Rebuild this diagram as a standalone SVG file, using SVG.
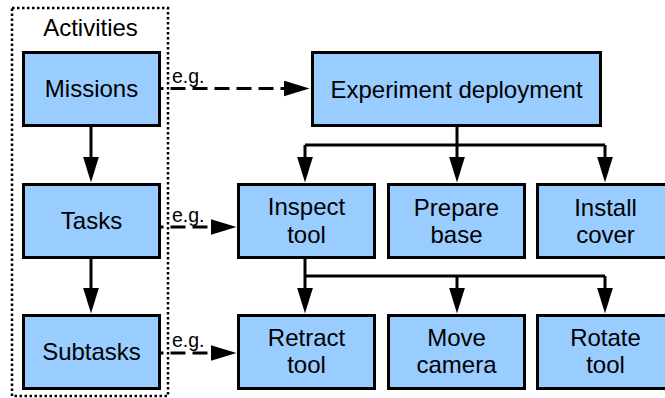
<svg xmlns="http://www.w3.org/2000/svg" width="665" height="398" viewBox="0 0 665 398">
  <style>
    .box { fill: #99ccff; stroke: #000; stroke-width: 3; }
    .lbl { font-family: "Liberation Sans", Arial, sans-serif; font-size: 24px; fill: #000; text-anchor: middle; }
    .eg { font-family: "Liberation Sans", Arial, sans-serif; font-size: 19.5px; fill: #000; }
    .wire { fill: none; stroke: #000; stroke-width: 3; }
    .arrow { fill: none; stroke: #000; stroke-width: 3; marker-end: url(#head); }
    .dash { fill: none; stroke: #000; stroke-width: 3; stroke-dasharray: 15 7; stroke-dashoffset: 12; marker-end: url(#head); }
    .group { fill: none; stroke: #000; stroke-width: 2.5; stroke-dasharray: 2.5 2.5; }
  </style>
  <defs>
    <marker id="head" markerUnits="userSpaceOnUse" markerWidth="26" markerHeight="16" viewBox="0 0 26 16" refX="0.5" refY="8" orient="auto">
      <path d="M0,0 L26,8 L0,16 Z" fill="#000"/>
    </marker>
  </defs>

  <!-- Activities grouping -->
  <g id="activities">
    <rect class="group" x="12" y="8" width="156" height="388"/>
    <text class="lbl" x="90.5" y="36">Activities</text>
  </g>

  <!-- Hierarchy levels -->
  <g id="missions">
    <rect class="box" x="23.5" y="52.5" width="136" height="73"/>
    <text class="lbl" x="91.5" y="97">Missions</text>
  </g>
  <g id="tasks">
    <rect class="box" x="23.5" y="184.5" width="136" height="73"/>
    <text class="lbl" x="91.5" y="229">Tasks</text>
  </g>
  <g id="subtasks">
    <rect class="box" x="23.5" y="315.5" width="136" height="73"/>
    <text class="lbl" x="91.5" y="360">Subtasks</text>
  </g>

  <!-- Example mission -->
  <g id="experiment-deployment">
    <rect class="box" x="312.5" y="52.5" width="288" height="73"/>
    <text class="lbl" x="456.5" y="98">Experiment deployment</text>
  </g>

  <!-- Example tasks -->
  <g id="inspect-tool">
    <rect class="box" x="238.5" y="184.5" width="136" height="73"/>
    <text class="lbl" x="306.5" y="215">Inspect</text>
    <text class="lbl" x="306.5" y="243">tool</text>
  </g>
  <g id="prepare-base">
    <rect class="box" x="388.5" y="184.5" width="136" height="73"/>
    <text class="lbl" x="456.5" y="216">Prepare</text>
    <text class="lbl" x="456.5" y="243">base</text>
  </g>
  <g id="install-cover">
    <rect class="box" x="537.5" y="184.5" width="136" height="73"/>
    <text class="lbl" x="605.5" y="216">Install</text>
    <text class="lbl" x="605.5" y="243">cover</text>
  </g>

  <!-- Example subtasks -->
  <g id="retract-tool">
    <rect class="box" x="238.5" y="315.5" width="136" height="73"/>
    <text class="lbl" x="306.5" y="346">Retract</text>
    <text class="lbl" x="306.5" y="373">tool</text>
  </g>
  <g id="move-camera">
    <rect class="box" x="388.5" y="315.5" width="136" height="73"/>
    <text class="lbl" x="456.5" y="346">Move</text>
    <text class="lbl" x="456.5" y="373">camera</text>
  </g>
  <g id="rotate-tool">
    <rect class="box" x="537.5" y="315.5" width="136" height="73"/>
    <text class="lbl" x="605.5" y="346">Rotate</text>
    <text class="lbl" x="605.5" y="373">tool</text>
  </g>

  <!-- Connectors -->
  <g id="connectors">
    <path class="arrow" d="M91,127 V157"/>
    <path class="arrow" d="M91,259 V288"/>

    <path class="wire" d="M457,127 V145 M305,145 H605"/>
    <path class="arrow" d="M305,145 V157"/>
    <path class="arrow" d="M457,145 V157"/>
    <path class="arrow" d="M605,145 V157"/>

    <path class="wire" d="M305,259 V276 M305,276 H605"/>
    <path class="arrow" d="M305,276 V288"/>
    <path class="arrow" d="M457,276 V288"/>
    <path class="arrow" d="M605,276 V288"/>

    <path class="dash" d="M160.5,88.5 H284"/>
    <path class="dash" d="M160.5,227 H211"/>
    <path class="dash" d="M160.5,353 H211"/>
    <text class="eg" x="172" y="83">e.g.</text>
    <text class="eg" x="172" y="222">e.g.</text>
    <text class="eg" x="172" y="347">e.g.</text>
  </g>
</svg>
